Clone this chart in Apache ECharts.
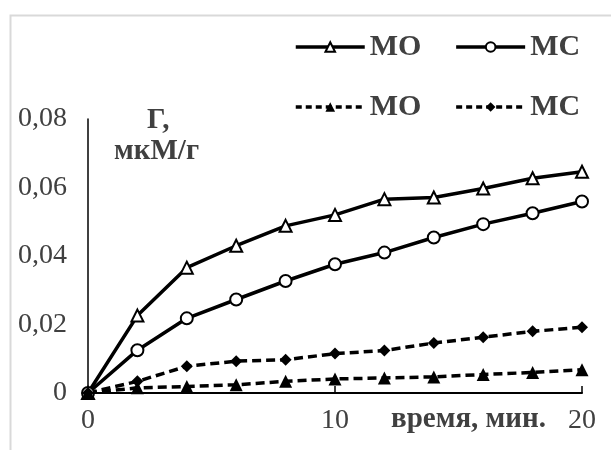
<!DOCTYPE html>
<html>
<head>
<meta charset="utf-8">
<script src="https://cdn.jsdelivr.net/npm/echarts@6/dist/echarts.min.js"></script>
<style>
  html, body { margin: 0; padding: 0; background: #fff; }
  #chart { width: 611px; height: 450px; }
</style>
</head>
<body>
<div id="chart"></div>
<script>
// Time points, minutes
const timeMin = [0, 2, 4, 6, 8, 10, 12, 14, 16, 18, 20];

// Adsorption Г, мкМ/г
const moSolid  = [0, 0.0226, 0.0366, 0.0430, 0.0488, 0.0520, 0.0566, 0.0571, 0.0597, 0.0627, 0.0646];
const mcSolid  = [0, 0.0125, 0.0218, 0.0273, 0.0327, 0.0376, 0.0410, 0.0454, 0.0493, 0.0525, 0.0559];
const moDashed = [0, 0.0015, 0.0019, 0.0024, 0.0034, 0.0041, 0.0044, 0.0047, 0.0054, 0.0060, 0.0068];
const mcDashed = [0, 0.0034, 0.0078, 0.0093, 0.0097, 0.0115, 0.0124, 0.0146, 0.0163, 0.0180, 0.0192];

// Axis ticks
const yTicks = [0, 0.02, 0.04, 0.06, 0.08];
const xTicks = [0, 10, 20];

const FONT = "'Liberation Serif', 'Times New Roman', serif";
const GREY = '#404040';
const DASH = [9, 5];
const LINE_W = 3.5;

const pairs = ys => timeMin.map((t, i) => [t, ys[i]]);

function makeSeries(name, data, symbol, filled, dashed) {
  return {
    name: name,
    type: 'line',
    data: pairs(data),
    symbol: symbol,
    symbolSize: filled ? (symbol === 'diamond' ? 12 : 13) : 12,
    showSymbol: true,
    lineStyle: { color: '#000', width: LINE_W, type: dashed ? DASH : 'solid' },
    itemStyle: filled
      ? { color: '#000', borderColor: '#000', borderWidth: 0 }
      : { color: '#fff', borderColor: '#000', borderWidth: 2 },
    emphasis: { disabled: true },
    animation: false,
    z: 3
  };
}

function legendItem(name, dashed) {
  return { name: name, lineStyle: { color: '#000', width: LINE_W, type: dashed ? [6, 4] : 'solid' } };
}

const chart = echarts.init(document.getElementById('chart'), null, { renderer: 'canvas' });

const legendBase = {
  orient: 'horizontal',
  left: 289,
  itemWidth: 69,
  itemHeight: 12,
  itemGap: 33,
  selectedMode: false,
  lineStyle: { width: LINE_W, color: '#000' },
  formatter: n => n.split(' ')[0],
  textStyle: { fontFamily: FONT, fontSize: 30, fontWeight: 'bold', color: GREY }
};

chart.setOption({
  backgroundColor: '#fff',
  animation: false,
  grid: { left: 88, right: 29, top: 119, bottom: 57, containLabel: false },
  legend: [
    Object.assign({}, legendBase, { top: 27, data: [legendItem('МО (сплошная)', false), legendItem('МС (сплошная)', false)] }),
    Object.assign({}, legendBase, { top: 87, data: [legendItem('МО (пунктир)', true), legendItem('МС (пунктир)', true)] })
  ],
  xAxis: {
    type: 'value',
    min: xTicks[0],
    max: xTicks[xTicks.length - 1],
    interval: xTicks[1] - xTicks[0],
    axisLine: { show: true, onZero: false, lineStyle: { color: '#000', width: 2 } },
    axisTick: { show: true, inside: true, length: 7, lineStyle: { color: '#000', width: 1.5 } },
    splitLine: { show: false },
    axisLabel: { fontFamily: FONT, fontSize: 28, color: GREY, margin: 14 }
  },
  yAxis: {
    type: 'value',
    min: yTicks[0],
    max: yTicks[yTicks.length - 1],
    interval: yTicks[1] - yTicks[0],
    axisLine: { show: true, onZero: false, lineStyle: { color: '#000', width: 1.5 } },
    axisTick: { show: false },
    splitLine: { show: false },
    axisLabel: {
      fontFamily: FONT, fontSize: 28, color: GREY, margin: 21,
      formatter: v => (v === 0 ? '0' : v.toFixed(2).replace('.', ','))
    }
  },
  graphic: [
    { type: 'rect', left: 8, top: 13, silent: true,
      shape: { width: 700, height: 600 },
      style: { fill: 'none', stroke: '#d9d9d9', lineWidth: 2 } },
    { type: 'text', left: 147, top: 106, silent: true,
      style: { text: 'Г,', font: "bold 29px " + FONT, fill: GREY } },
    { type: 'text', left: 114, top: 137, silent: true,
      style: { text: 'мкМ/г', font: "bold 29px " + FONT, fill: GREY } },
    { type: 'text', left: 391, top: 405, silent: true,
      style: { text: 'время, мин.', font: "bold 29px " + FONT, fill: GREY } }
  ],
  series: [
    makeSeries('МО (сплошная)', moSolid, 'triangle', false, false),
    makeSeries('МС (сплошная)', mcSolid, 'circle', false, false),
    makeSeries('МО (пунктир)', moDashed, 'triangle', true, true),
    makeSeries('МС (пунктир)', mcDashed, 'diamond', true, true)
  ]
});
</script>
</body>
</html>
